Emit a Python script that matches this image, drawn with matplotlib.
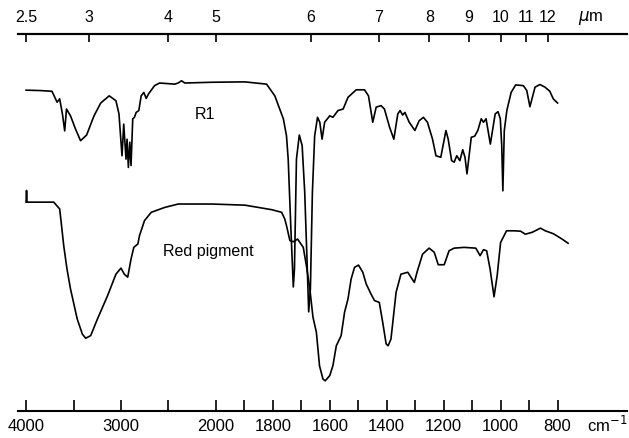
import numpy as np
import matplotlib
matplotlib.use("Agg")
import matplotlib.pyplot as plt
from matplotlib.ticker import FixedLocator, NullLocator

plt.rcParams['font.family'] = ['Liberation Sans', 'DejaVu Sans']

# ==========================
# data
# ==========================
r1_wn = [4000, 3851, 3727, 3673, 3646, 3617, 3593, 3574, 3532, 3479, 3426, 3362,
         3284, 3213, 3124, 3053, 3021, 3000, 2989, 2971, 2947, 2936, 2922, 2907,
         2894, 2876, 2858, 2840, 2812, 2787, 2759, 2734, 2710, 2646, 2593, 2433,
         2397, 2362, 2327, 2043, 1898, 1822, 1793, 1763, 1752, 1746, 1737, 1728,
         1724, 1717, 1707, 1697, 1688, 1680, 1674, 1668, 1661, 1653, 1643, 1635,
         1627, 1618, 1600, 1589, 1571, 1553, 1536, 1507, 1478, 1464, 1449, 1437,
         1420, 1408, 1390, 1375, 1361, 1353, 1344, 1336, 1321, 1301, 1286, 1271,
         1257, 1239, 1227, 1210, 1192, 1184, 1172, 1163, 1154, 1143, 1133, 1125,
         1118, 1103, 1091, 1080, 1068, 1060, 1051, 1036, 1019, 1009, 1001, 996,
         992, 987, 978, 963, 947, 920, 908, 897, 879, 862, 844, 827, 815, 800]
r1_t = [85.1, 85.0, 84.8, 81.9, 82.8, 78.8, 74.3, 80.1, 78.3, 74.8, 71.7, 73.2,
        78.3, 81.7, 83.6, 82.3, 78.8, 71.4, 67.7, 76.1, 66.8, 72.1, 64.6, 71.3,
        65.1, 77.5, 77.9, 79.2, 79.7, 83.6, 84.5, 82.9, 84.1, 86.3, 87.0, 86.7,
        87.0, 87.6, 87.0, 87.2, 87.3, 86.7, 83.6, 77.5, 73.0, 66.8, 49.2, 32.9,
        37.7, 66.8, 73.2, 70.4, 58.1, 40.3, 26.3, 32.4, 58.0, 73.0, 77.9, 76.6,
        72.1, 76.6, 78.3, 77.9, 79.7, 80.1, 83.2, 85.2, 85.2, 83.6, 76.6, 80.6,
        81.0, 80.1, 75.3, 72.1, 78.8, 79.7, 78.5, 79.2, 76.6, 74.4, 77.0, 77.9,
        76.6, 72.1, 67.7, 67.3, 74.4, 72.1, 66.4, 66.0, 67.7, 66.4, 69.3, 67.3,
        62.9, 72.6, 72.9, 74.4, 77.5, 76.6, 77.5, 70.8, 78.8, 79.4, 77.5, 70.4,
        58.4, 74.4, 79.7, 84.5, 86.5, 86.3, 85.0, 80.7, 85.9, 86.6, 85.9, 84.8,
        82.8, 81.7]

red_wn = [4000, 3995, 3990, 3851, 3709, 3646, 3628, 3603, 3569, 3532, 3461, 3407,
          3372, 3319, 3248, 3141, 3053, 3000, 2965, 2929, 2894, 2865, 2822, 2805,
          2752, 2681, 2539, 2397, 2043, 1898, 1804, 1769, 1758, 1752, 1740, 1728,
          1713, 1693, 1682, 1670, 1659, 1647, 1636, 1624, 1616, 1600, 1589, 1577,
          1560, 1548, 1536, 1525, 1513, 1499, 1484, 1472, 1455, 1443, 1426, 1414,
          1402, 1395, 1385, 1367, 1350, 1326, 1315, 1303, 1292, 1274, 1251, 1233,
          1219, 1198, 1181, 1163, 1128, 1087, 1072, 1060, 1049, 1037, 1023, 1012,
          1000, 979, 953, 930, 913, 889, 860, 843, 814, 784, 763]
red_t = [55.4, 58.5, 55.4, 55.4, 55.4, 53.6, 49.6, 43.8, 37.7, 32.4, 24.4, 20.4,
         19.3, 20.0, 24.4, 30.6, 36.3, 37.9, 36.3, 35.5, 40.3, 43.4, 44.3, 46.5,
         50.5, 52.7, 54.0, 54.9, 54.9, 54.6, 53.4, 52.7, 50.9, 49.2, 45.2, 44.9,
         45.6, 43.4, 38.5, 32.4, 24.9, 20.9, 12.0, 8.5, 8.0, 9.4, 12.0, 17.3,
         20.0, 26.2, 29.7, 35.0, 38.1, 38.7, 36.8, 33.7, 31.0, 29.3, 28.8, 23.5,
         17.8, 17.3, 19.1, 31.5, 36.3, 36.8, 35.5, 34.1, 37.2, 41.6, 43.2, 42.1,
         38.8, 38.8, 42.5, 43.2, 43.4, 43.2, 41.2, 42.8, 42.5, 37.7, 30.3, 35.9,
         44.7, 47.8, 47.8, 47.7, 46.9, 47.4, 48.5, 47.8, 47.0, 45.6, 44.5]

wn_ticks = [4000, 3000, 2000, 1800, 1600, 1400, 1200, 1000, 800]
wn_minor = [3500, 2500, 1900, 1700, 1500, 1300, 1100, 900]
um_ticks = [2.5, 3, 4, 5, 6, 7, 8, 9, 10, 11, 12]
um_labels = ['2.5', '3', '4', '5', '6', '7', '8', '9', '10', '11', '12']


# abscissa scale of the spectrometer: expanded 3x below 2000 cm-1
def fwd(wn):
    wn = np.asarray(wn, dtype=float)
    return np.where(wn >= 2000, wn, 3 * wn - 4000)


def inv(p):
    p = np.asarray(p, dtype=float)
    return np.where(p >= 2000, p, (p + 4000) / 3)


fig = plt.figure(figsize=(6.29, 4.39), dpi=100)
ax = fig.add_axes([18 / 629, 27 / 439, 609 / 629, 377 / 439])
ax.set_xscale('function', functions=(fwd, inv))
ax.set_xlim(4085, 556)
ax.set_ylim(0, 100)

ax.plot(r1_wn, r1_t, color='black', lw=1.2)
ax.plot(red_wn, red_t, color='black', lw=1.2)

ax.text(2117, 78.8, 'R1', fontsize=11.5, ha='center', va='center')
ax.text(2078, 42.5, 'Red pigment', fontsize=11.5, ha='center', va='center')

for s in ['left', 'right']:
    ax.spines[s].set_visible(False)
for s in ['top', 'bottom']:
    ax.spines[s].set_linewidth(1.5)

ax.yaxis.set_major_locator(NullLocator())
ax.yaxis.set_minor_locator(NullLocator())
ax.xaxis.set_major_locator(FixedLocator(wn_ticks))
ax.xaxis.set_minor_locator(FixedLocator(wn_minor))
ax.set_xticklabels([str(t) for t in wn_ticks])
ax.tick_params(axis='x', which='both', direction='in', length=8, width=1.2,
               labelsize=12, pad=5)

# micrometre scale on top
ax2 = ax.twiny()
ax2.set_xscale('function', functions=(fwd, inv))
ax2.set_xlim(ax.get_xlim())
ax2.xaxis.set_major_locator(FixedLocator([1e4 / u for u in um_ticks]))
ax2.xaxis.set_minor_locator(NullLocator())
ax2.set_xticklabels(um_labels)
ax2.tick_params(axis='x', which='both', direction='in', length=6, width=1.2,
                labelsize=11.5, pad=7)
for s in ['left', 'right', 'bottom']:
    ax2.spines[s].set_visible(False)
ax2.spines['top'].set_linewidth(1.5)

fig.text(607 / 629, 1 - 425 / 439, 'cm$^{-1}$', fontsize=12, ha='center', va='center')
fig.text(591 / 629, 1 - 18 / 439, '$\\mu$m', fontsize=12, ha='center', va='center')

fig.savefig('out.png', dpi=100)
